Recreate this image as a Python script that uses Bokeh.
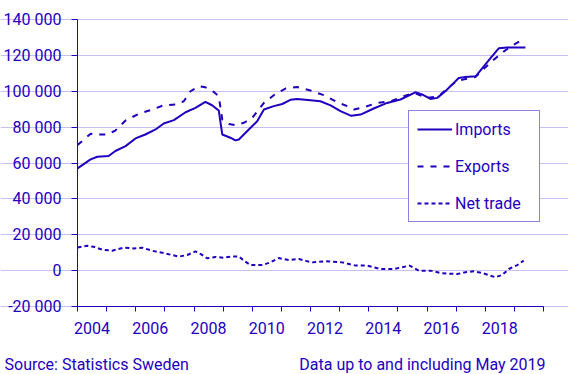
from bokeh.plotting import figure
from bokeh.models import (FixedTicker, CustomJSTickFormatter, Legend, LegendItem,
                          Range1d, Label)
from bokeh.embed import file_html
from bokeh.resources import INLINE

# ---- data (decimal year, SEK million) ----
imports_x = [2004.0, 2004.45, 2004.68, 2005.07, 2005.3, 2005.65, 2005.99, 2006.33, 2006.68, 2006.96,
             2007.31, 2007.71, 2008.05, 2008.39, 2008.62, 2008.85, 2008.97, 2009.25, 2009.42, 2009.54,
             2009.83, 2010.17, 2010.4, 2010.74, 2011.03, 2011.31, 2011.54, 2012.0, 2012.34, 2012.69,
             2013.03, 2013.4, 2013.72, 2014.17, 2014.63, 2015.09, 2015.6, 2015.83, 2016.12, 2016.35,
             2016.63, 2016.86, 2017.09, 2017.32, 2017.67, 2017.95, 2018.18, 2018.47, 2018.75, 2019.38]
imports_y = [57000, 62000, 63500, 63900, 66700, 69400, 73700, 75900, 78700, 82000,
             83900, 88300, 90700, 94100, 92200, 89300, 75900, 74100, 72600, 73100,
             77800, 83300, 89800, 91700, 92900, 95200, 95700, 95000, 94400, 92100,
             88900, 86300, 87000, 90400, 93500, 95400, 99400, 98200, 95700, 96300,
             100000, 103700, 107400, 108000, 108300, 113900, 118500, 124000, 124400, 124400]

exports_x = [2004.0, 2004.45, 2004.73, 2005.02, 2005.3, 2005.65, 2006.1, 2006.56, 2006.96, 2007.36,
             2007.65, 2007.88, 2008.16, 2008.39, 2008.68, 2008.85, 2008.97, 2009.2, 2009.42, 2009.71,
             2010.0, 2010.4, 2010.8, 2011.14, 2011.54, 2012.0, 2012.46, 2012.92, 2013.32, 2013.5,
             2013.83, 2014.29, 2014.75, 2015.2, 2015.55, 2016.0, 2016.4, 2016.69, 2017.04, 2017.32,
             2017.67, 2018.0, 2018.29, 2018.64, 2018.98, 2019.3]
exports_y = [70000, 76300, 75900, 75900, 78100, 83700, 87400, 89800, 92200, 92600,
             94400, 100000, 102800, 102200, 99600, 97200, 84300, 81800, 81100, 82400,
             85200, 93500, 98500, 101500, 102400, 100400, 97800, 93900, 91300, 89800,
             91100, 93500, 94400, 97200, 99100, 96300, 97200, 101500, 105900, 106800,
             108000, 113300, 117600, 122200, 126000, 129000]

net_x = [2004.0, 2004.33, 2004.55, 2004.85, 2005.19, 2005.59, 2005.93, 2006.22, 2006.56, 2007.02,
         2007.48, 2007.77, 2008.05, 2008.22, 2008.45, 2008.74, 2009.02, 2009.31, 2009.54, 2009.71,
         2009.94, 2010.34, 2010.57, 2010.91, 2011.26, 2011.6, 2011.94, 2012.06, 2012.52, 2013.09,
         2013.55, 2013.95, 2014.4, 2014.86, 2015.15, 2015.4, 2015.72, 2016.12, 2016.52, 2017.04,
         2017.32, 2017.61, 2017.89, 2018.35, 2018.58, 2018.81, 2019.1, 2019.32]
net_y = [12900, 13900, 13300, 11700, 11100, 12800, 12400, 12800, 11100, 9600,
         7800, 8700, 10700, 9300, 6900, 7600, 7200, 7900, 7900, 5600,
         3100, 3100, 4300, 7000, 5900, 6500, 5000, 4600, 5200, 4600,
         2800, 2800, 900, 900, 1900, 2800, 0, 0, -1500, -1900,
         -900, -400, -1300, -3700, -2400, 900, 3100, 5600]

year_label_pos = [2004.5, 2006.5, 2008.5, 2010.5, 2012.5, 2014.5, 2016.5, 2018.5]
year_bounds = list(range(2004, 2021))
y_ticks = [-20000, 0, 20000, 40000, 60000, 80000, 100000, 120000, 140000]

series_names = ["Imports", "Exports", "Net trade"]
source_text = "Source: Statistics Sweden"
note_text = "Data up to and including May 2019"

# ---- style / geometry ----
BLUE = "#1e00be"
GRID = "#c6c1f0"
FONT = "Roboto"
FS = "16px"
W, H = 568, 374
PLOT_L, PLOT_R, PLOT_T, PLOT_B = 77, 543, 19, 306   # pixel box of the data area
X0, X1 = 2004, 2020
Y0, Y1 = -20000, 140000
px_x = (X1 - X0) / (PLOT_R - PLOT_L)
px_y = (Y1 - Y0) / (PLOT_B - PLOT_T)

# the frame covers the whole canvas so that the footer texts are not clipped;
# the axes are pinned at the data-area edges
p = figure(width=W, height=H, output_backend="svg", toolbar_location=None,
           x_range=Range1d(X0 - PLOT_L * px_x, X1 + (W - PLOT_R) * px_x),
           y_range=Range1d(Y0 - (H - PLOT_B) * px_y, Y1 + PLOT_T * px_y),
           min_border=0, min_border_left=0, min_border_right=0,
           min_border_top=0, min_border_bottom=0)
p.outline_line_color = None

r_exp = p.line(exports_x, exports_y, line_color=BLUE, line_width=2, line_dash="6 7")
r_net = p.line(net_x, net_y, line_color=BLUE, line_width=2, line_dash="4 3")
r_imp = p.line(imports_x, imports_y, line_color=BLUE, line_width=2)

# grid (only within the data area)
p.xgrid.grid_line_color = None
p.ygrid.grid_line_color = GRID
p.ygrid.grid_line_width = 1
p.ygrid.bounds = (X0, X1)

# x axis
xa = p.xaxis[0]
xa.fixed_location = Y0
xa.bounds = (X0, X1)
xa.ticker = FixedTicker(ticks=year_label_pos, minor_ticks=year_bounds)
xa.formatter = CustomJSTickFormatter(code="return Math.floor(tick).toString();")
xa.axis_line_color = BLUE
xa.axis_line_width = 1
xa.major_tick_line_color = None
xa.major_tick_out = 5
xa.major_tick_in = 0
xa.minor_tick_line_color = BLUE
xa.minor_tick_out = 5
xa.minor_tick_in = 0
xa.major_label_standoff = 10
xa.major_label_text_font = FONT
xa.major_label_text_font_size = FS
xa.major_label_text_color = BLUE

# y axis
ya = p.yaxis[0]
ya.fixed_location = X0
ya.bounds = (Y0, Y1)
ya.ticker = FixedTicker(ticks=y_ticks)
ya.formatter = CustomJSTickFormatter(code="""
const s = Math.abs(Math.round(tick)).toString().replace(/\\B(?=(\\d{3})+(?!\\d))/g, " ");
return (tick < 0 ? "-" : "") + s;
""")
ya.axis_line_color = BLUE
ya.axis_line_width = 1
ya.major_tick_line_color = BLUE
ya.major_tick_out = 6
ya.major_tick_in = 0
ya.minor_tick_line_color = None
ya.major_label_standoff = 10
ya.major_label_text_font = FONT
ya.major_label_text_font_size = FS
ya.major_label_text_color = BLUE

# legend
legend = Legend(items=[LegendItem(label=series_names[0], renderers=[r_imp]),
                       LegendItem(label=series_names[1], renderers=[r_exp]),
                       LegendItem(label=series_names[2], renderers=[r_net])],
                location=(408, H - 222))
legend.border_line_color = BLUE
legend.border_line_width = 1
legend.background_fill_color = "white"
legend.background_fill_alpha = 1
legend.padding = 8
legend.margin = 0
legend.spacing = 17
legend.glyph_width = 35
legend.glyph_height = 20
legend.label_height = 20
legend.label_width = 76
legend.label_standoff = 3
legend.label_text_font = FONT
legend.label_text_font_size = FS
legend.label_text_color = BLUE
p.add_layout(legend, "center")

# footer texts
p.add_layout(Label(x=4, y=10, x_units="screen", y_units="screen", text=source_text,
                   text_font=FONT, text_font_size=FS, text_color=BLUE,
                   text_align="left", text_baseline="alphabetic"))
p.add_layout(Label(x=545, y=10, x_units="screen", y_units="screen", text=note_text,
                   text_font=FONT, text_font_size=FS, text_color=BLUE,
                   text_align="right", text_baseline="alphabetic"))

open("out.html", "w").write(file_html(p, INLINE))
